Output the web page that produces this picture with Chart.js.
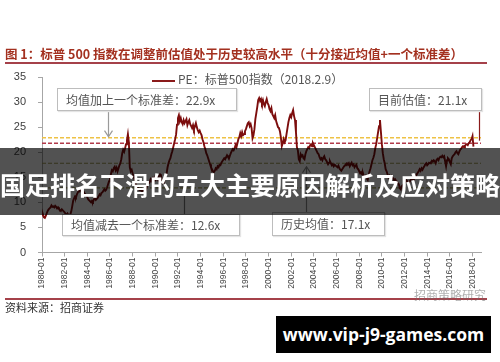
<!DOCTYPE html>
<html>
<head>
<meta charset="utf-8">
<script src="https://cdn.jsdelivr.net/npm/chart.js@4.4.1/dist/chart.umd.min.js"></script>
<style>
  body { margin: 0; background: #fff; }
  #wrap { position: relative; width: 500px; height: 362px; overflow: hidden; font-family: 'Noto Sans CJK SC', 'Noto Sans', sans-serif; }
  #chartPe { position: absolute; left: 0; top: 0; }
  .title { position: absolute; left: 5px; top: 44px; font-size: 12.5px; font-weight: bold; color: #a3301f; white-space: nowrap; }
  .rule { position: absolute; left: 5px; width: 482px; height: 1.5px; background: #a5414a; }
  .legend { position: absolute; left: 152px; top: 70px; font-size: 12px; color: #555; white-space: nowrap; }
  .legend i { display: inline-block; width: 23px; height: 2px; background: #8a1a1a; vertical-align: middle; margin-right: 3px; }
  .box { position: absolute; background: #fff; border: 1px solid #bdbdbd; box-shadow: 1px 1px 1px #e4e4e4; font-size: 12px; color: #555; white-space: nowrap; box-sizing: border-box; padding-left: 8px; }
  .banner { position: absolute; left: 0; top: 148px; width: 500px; height: 67px; background: rgba(0, 0, 0, 0.68); color: #fff; font-weight: bold; font-size: 25px; line-height: 72px; text-align: center; white-space: nowrap; }
  .source { position: absolute; left: 5px; top: 299px; font-size: 11px; color: #333; }
  .wm { position: absolute; left: 414px; top: 286px; font-size: 12px; color: rgba(110, 110, 110, 0.55); }
  .site { position: absolute; left: 276px; top: 316px; width: 215px; height: 37px; background: #000; color: #fff; font-family: 'Open Sans', sans-serif; font-weight: bold; font-size: 17.5px; line-height: 37px; text-align: center; }
</style>
</head>
<body>
<div id="wrap">
  <canvas id="chartPe" width="500" height="362"></canvas>
  <div class="title">图 1：标普 500 指数在调整前估值处于历史较高水平（十分接近均值+一个标准差）</div>
  <div class="rule" style="top:62px"></div>
  <div class="legend"><i></i>PE：标普500指数（2018.2.9）</div>
  <div class="box" style="left:57px;top:88px;width:180px;height:23px;line-height:21px">均值加上一个标准差：22.9x</div>
  <div class="box" style="left:369px;top:88px;width:113px;height:23px;line-height:21px">目前估值：21.1x</div>
  <div class="box" style="left:62px;top:214px;width:178px;height:22px;line-height:20px">均值减去一个标准差：12.6x</div>
  <div class="box" style="left:272px;top:212px;width:113px;height:24px;line-height:22px">历史均值：17.1x</div>
  <div class="banner">国足排名下滑的五大主要原因解析及应对策略</div>
  <div class="rule" style="top:298px"></div>
  <div class="source">资料来源：招商证券</div>
  <div class="wm">招商策略研究</div>
  <div class="site">www.vip-j9-games.com</div>
</div>
<script>
// monthly S&P 500 PE, 1980-01 .. 2018-02
const startYear = 1980;
const pe = [
  7.4, 7.6, 7.0, 6.9, 7.3, 7.8, 8.3, 8.6, 8.8, 9.0, 9.4, 9.1,          // 1980
  9.2, 9.0, 9.3, 9.1, 8.8, 9.0, 8.7, 8.5, 8.3, 8.6, 8.4, 8.2,          // 1981
  8.0, 7.7, 7.6, 7.8, 7.5, 7.4, 7.6, 8.2, 9.2, 10.3, 10.8, 11.2,       // 1982
  11.0, 11.6, 12.0, 12.4, 12.2, 12.6, 12.3, 12.0, 12.2, 11.8, 11.6, 11.4,
  11.0, 10.6, 10.4, 10.2, 10.0, 10.3, 10.1, 10.6, 10.8, 10.5, 10.7, 10.9,
  11.2, 11.6, 11.4, 11.9, 12.0, 12.3, 12.6, 12.3, 12.5, 13.0, 13.6, 14.2,
  14.8, 15.6, 16.4, 16.2, 16.8, 17.1, 16.4, 16.9, 16.2, 16.8, 17.4, 17.8,
  18.6, 19.8, 20.5, 20.1, 20.8, 21.6, 22.4, 23.6, 22.0, 17.0, 16.2, 16.5, // 1987
  15.8, 15.2, 14.6, 14.0, 13.4, 13.2, 12.8, 12.5, 12.4, 12.6, 12.2, 12.4,
  12.5, 12.8, 12.6, 13.2, 13.5, 13.8, 14.0, 14.6, 14.3, 14.8, 14.5, 14.9,
  14.4, 14.6, 14.9, 14.5, 15.3, 15.6, 15.4, 14.2, 13.8, 13.9, 14.6, 15.2, // 1990
  15.8, 17.0, 17.8, 18.4, 18.8, 19.6, 20.2, 21.0, 21.8, 22.6, 23.5, 25.5,
  26.8, 27.4, 26.2, 26.8, 26.0, 25.6, 26.4, 25.8, 26.2, 26.6, 25.4, 26.0,
  26.4, 25.6, 25.2, 24.8, 25.4, 24.6, 25.2, 25.8, 25.0, 24.4, 24.0, 24.3,
  23.8, 23.4, 22.6, 22.0, 21.2, 20.6, 19.8, 19.4, 18.8, 18.2, 17.6, 17.0,
  16.6, 16.2, 16.0, 16.3, 16.8, 16.6, 17.2, 17.0, 17.5, 17.4, 17.9, 18.2, // 1995
  18.5, 18.8, 18.6, 19.0, 19.4, 19.1, 18.7, 19.3, 19.8, 20.2, 20.6, 20.4,
  20.8, 21.4, 21.0, 21.8, 22.6, 23.0, 23.8, 23.2, 24.0, 23.4, 23.6, 24.2,
  24.6, 25.2, 25.8, 26.0, 25.2, 25.6, 24.8, 22.8, 23.4, 24.6, 26.6, 27.8,
  29.0, 30.4, 30.8, 30.2, 30.6, 29.8, 30.4, 29.6, 29.2, 30.0, 30.6, 29.8,
  29.4, 28.6, 28.2, 28.8, 27.6, 27.2, 26.8, 27.4, 26.2, 25.6, 25.0, 24.8, // 2000
  24.2, 23.0, 21.2, 21.8, 22.6, 22.0, 22.4, 23.6, 24.8, 26.0, 26.8, 27.4,
  27.0, 27.8, 28.4, 27.2, 26.4, 24.0, 21.0, 20.4, 18.6, 18.2, 19.6, 19.2,
  19.4, 18.8, 18.6, 19.6, 20.2, 20.6, 21.0, 20.8, 21.4, 21.6, 21.2, 21.8,
  21.4, 21.0, 20.6, 20.2, 19.8, 19.6, 19.0, 18.6, 18.8, 18.4, 18.9, 19.2,
  18.6, 18.4, 18.0, 17.6, 17.9, 18.2, 17.8, 17.4, 17.6, 17.2, 17.5, 17.3, // 2005
  17.2, 17.0, 17.3, 16.8, 16.5, 16.3, 16.6, 16.9, 17.2, 17.4, 17.6, 17.8,
  17.5, 17.8, 17.2, 17.6, 17.9, 17.4, 17.6, 17.0, 17.3, 17.5, 16.8, 16.6,
  16.2, 15.8, 16.0, 15.6, 15.8, 15.2, 15.0, 15.3, 14.8, 14.5, 15.4, 16.2,
  16.8, 17.6, 18.4, 18.9, 19.6, 20.8, 21.6, 22.8, 24.0, 25.2, 26.4, 24.0,
  21.6, 19.8, 18.6, 17.8, 16.6, 16.2, 15.6, 15.0, 15.3, 14.8, 15.2, 14.9, // 2010
  14.8, 14.4, 14.6, 14.3, 14.1, 13.8, 13.6, 12.8, 12.6, 13.2, 13.4, 13.6,
  13.8, 14.1, 14.4, 14.2, 13.8, 14.0, 14.3, 14.6, 14.8, 14.5, 14.7, 15.0,
  15.2, 15.6, 15.9, 16.2, 16.6, 16.3, 16.8, 16.5, 16.9, 17.2, 17.6, 17.8,
  17.4, 17.6, 17.9, 17.8, 18.0, 18.3, 18.1, 18.4, 18.2, 17.8, 18.5, 18.7,
  18.4, 18.9, 19.1, 19.0, 19.3, 19.0, 19.2, 18.2, 17.2, 18.4, 18.8, 18.6, // 2015
  18.0, 17.6, 18.8, 19.2, 19.4, 19.6, 20.0, 20.2, 19.8, 19.6, 20.1, 20.5,
  20.7, 21.0, 21.2, 21.0, 21.3, 21.5, 21.6, 21.4, 21.8, 22.0, 22.4, 22.6,
  23.2, 21.1                                                           // 2018
];

// dashed reference levels as drawn: +1 sd, current, mean, -1 sd
const refLevels = [22.9, 21.8, 17.8, 12.9];
const refColors = ['#eec245', '#b23a4a', '#a39a55', '#a39a55'];
const xTicks = [];
for (let y = 1980; y <= 2018; y += 2) xTicks.push(y);

const xMin = 1980, xMax = 2018.75;
const pePoints = pe.map((v, i) => ({ x: startYear + i / 12, y: v }));

const datasets = [
  {
    label: 'PE',
    data: pePoints,
    borderColor: '#7c0d0d',
    borderWidth: 1.9,
    pointRadius: 0,
    tension: 0,
    order: 0,
  },
];
refLevels.forEach((lv, i) => {
  datasets.push({
    label: 'ref' + i,
    data: [{ x: xMin, y: lv }, { x: xMax, y: lv }],
    borderColor: refColors[i],
    borderWidth: i < 2 ? 1.5 : 1.2,
    borderDash: [4, 2],
    pointRadius: 0,
    order: 1,
  });
});

// connectors from the note boxes to the lines
const connectors = {
  id: 'connectors',
  afterDatasetsDraw(chart) {
    const { ctx, scales } = chart;
    const xs = scales.x, ys = scales.y;
    const arrow = (x, y1, y2, color, head) => {
      ctx.save();
      ctx.strokeStyle = color;
      ctx.lineWidth = 1.2;
      ctx.beginPath();
      ctx.moveTo(x, y1);
      ctx.lineTo(x, y2);
      ctx.stroke();
      if (head) {
        const d = y2 > y1 ? -1 : 1;
        ctx.beginPath();
        ctx.moveTo(x - 4, y2 + d * 6);
        ctx.lineTo(x, y2);
        ctx.lineTo(x + 4, y2 + d * 6);
        ctx.stroke();
      }
      ctx.restore();
    };
    arrow(Math.round(xs.getPixelForValue(1985.85)) + 0.5, 111, ys.getPixelForValue(22.9) - 1, '#9a9a9a', true);
    arrow(Math.round(xs.getPixelForValue(2018.6)) + 0.5, 111, ys.getPixelForValue(22.3), '#8a1a1a', false);
    arrow(Math.round(xs.getPixelForValue(1992.55)) + 0.5, 214, ys.getPixelForValue(12.9) + 1, '#777', false);
    arrow(Math.round(xs.getPixelForValue(2003.3)) + 0.5, 212, ys.getPixelForValue(17.1) , '#8a8a8a', true);
  },
};

const chartPe = new Chart(document.getElementById('chartPe'), {
  type: 'line',
  data: { datasets },
  plugins: [connectors],
  options: {
    responsive: false,
    animation: false,
    layout: { padding: { left: 0, right: 19, top: 77, bottom: 65 } },
    plugins: { legend: { display: false }, tooltip: { enabled: false } },
    scales: {
      x: {
        type: 'linear',
        min: xMin,
        max: xMax,
        afterBuildTicks: (axis) => { axis.ticks = xTicks.map((v) => ({ value: v })); },
        afterFit: (axis) => { axis.height = 44.5; },
        ticks: {
          autoSkip: false,
          minRotation: 90,
          maxRotation: 90,
          padding: 1,
          color: '#444',
          font: { family: 'Liberation Sans, Arial', size: 8.5 },
          callback: (v) => v + '-01',
        },
        grid: { drawOnChartArea: false, tickLength: 4, color: '#a6a6a6' },
        border: { color: '#a6a6a6' },
      },
      y: {
        min: 0,
        max: 35,
        afterFit: (axis) => { axis.width = 42; },
        ticks: {
          stepSize: 5,
          padding: 12,
          color: '#404040',
          font: { family: 'Liberation Sans, Arial', size: 11 },
        },
        grid: { drawOnChartArea: false, tickLength: 4, color: '#a6a6a6' },
        border: { color: '#a6a6a6' },
      },
    },
  },
});
</script>
</body>
</html>
